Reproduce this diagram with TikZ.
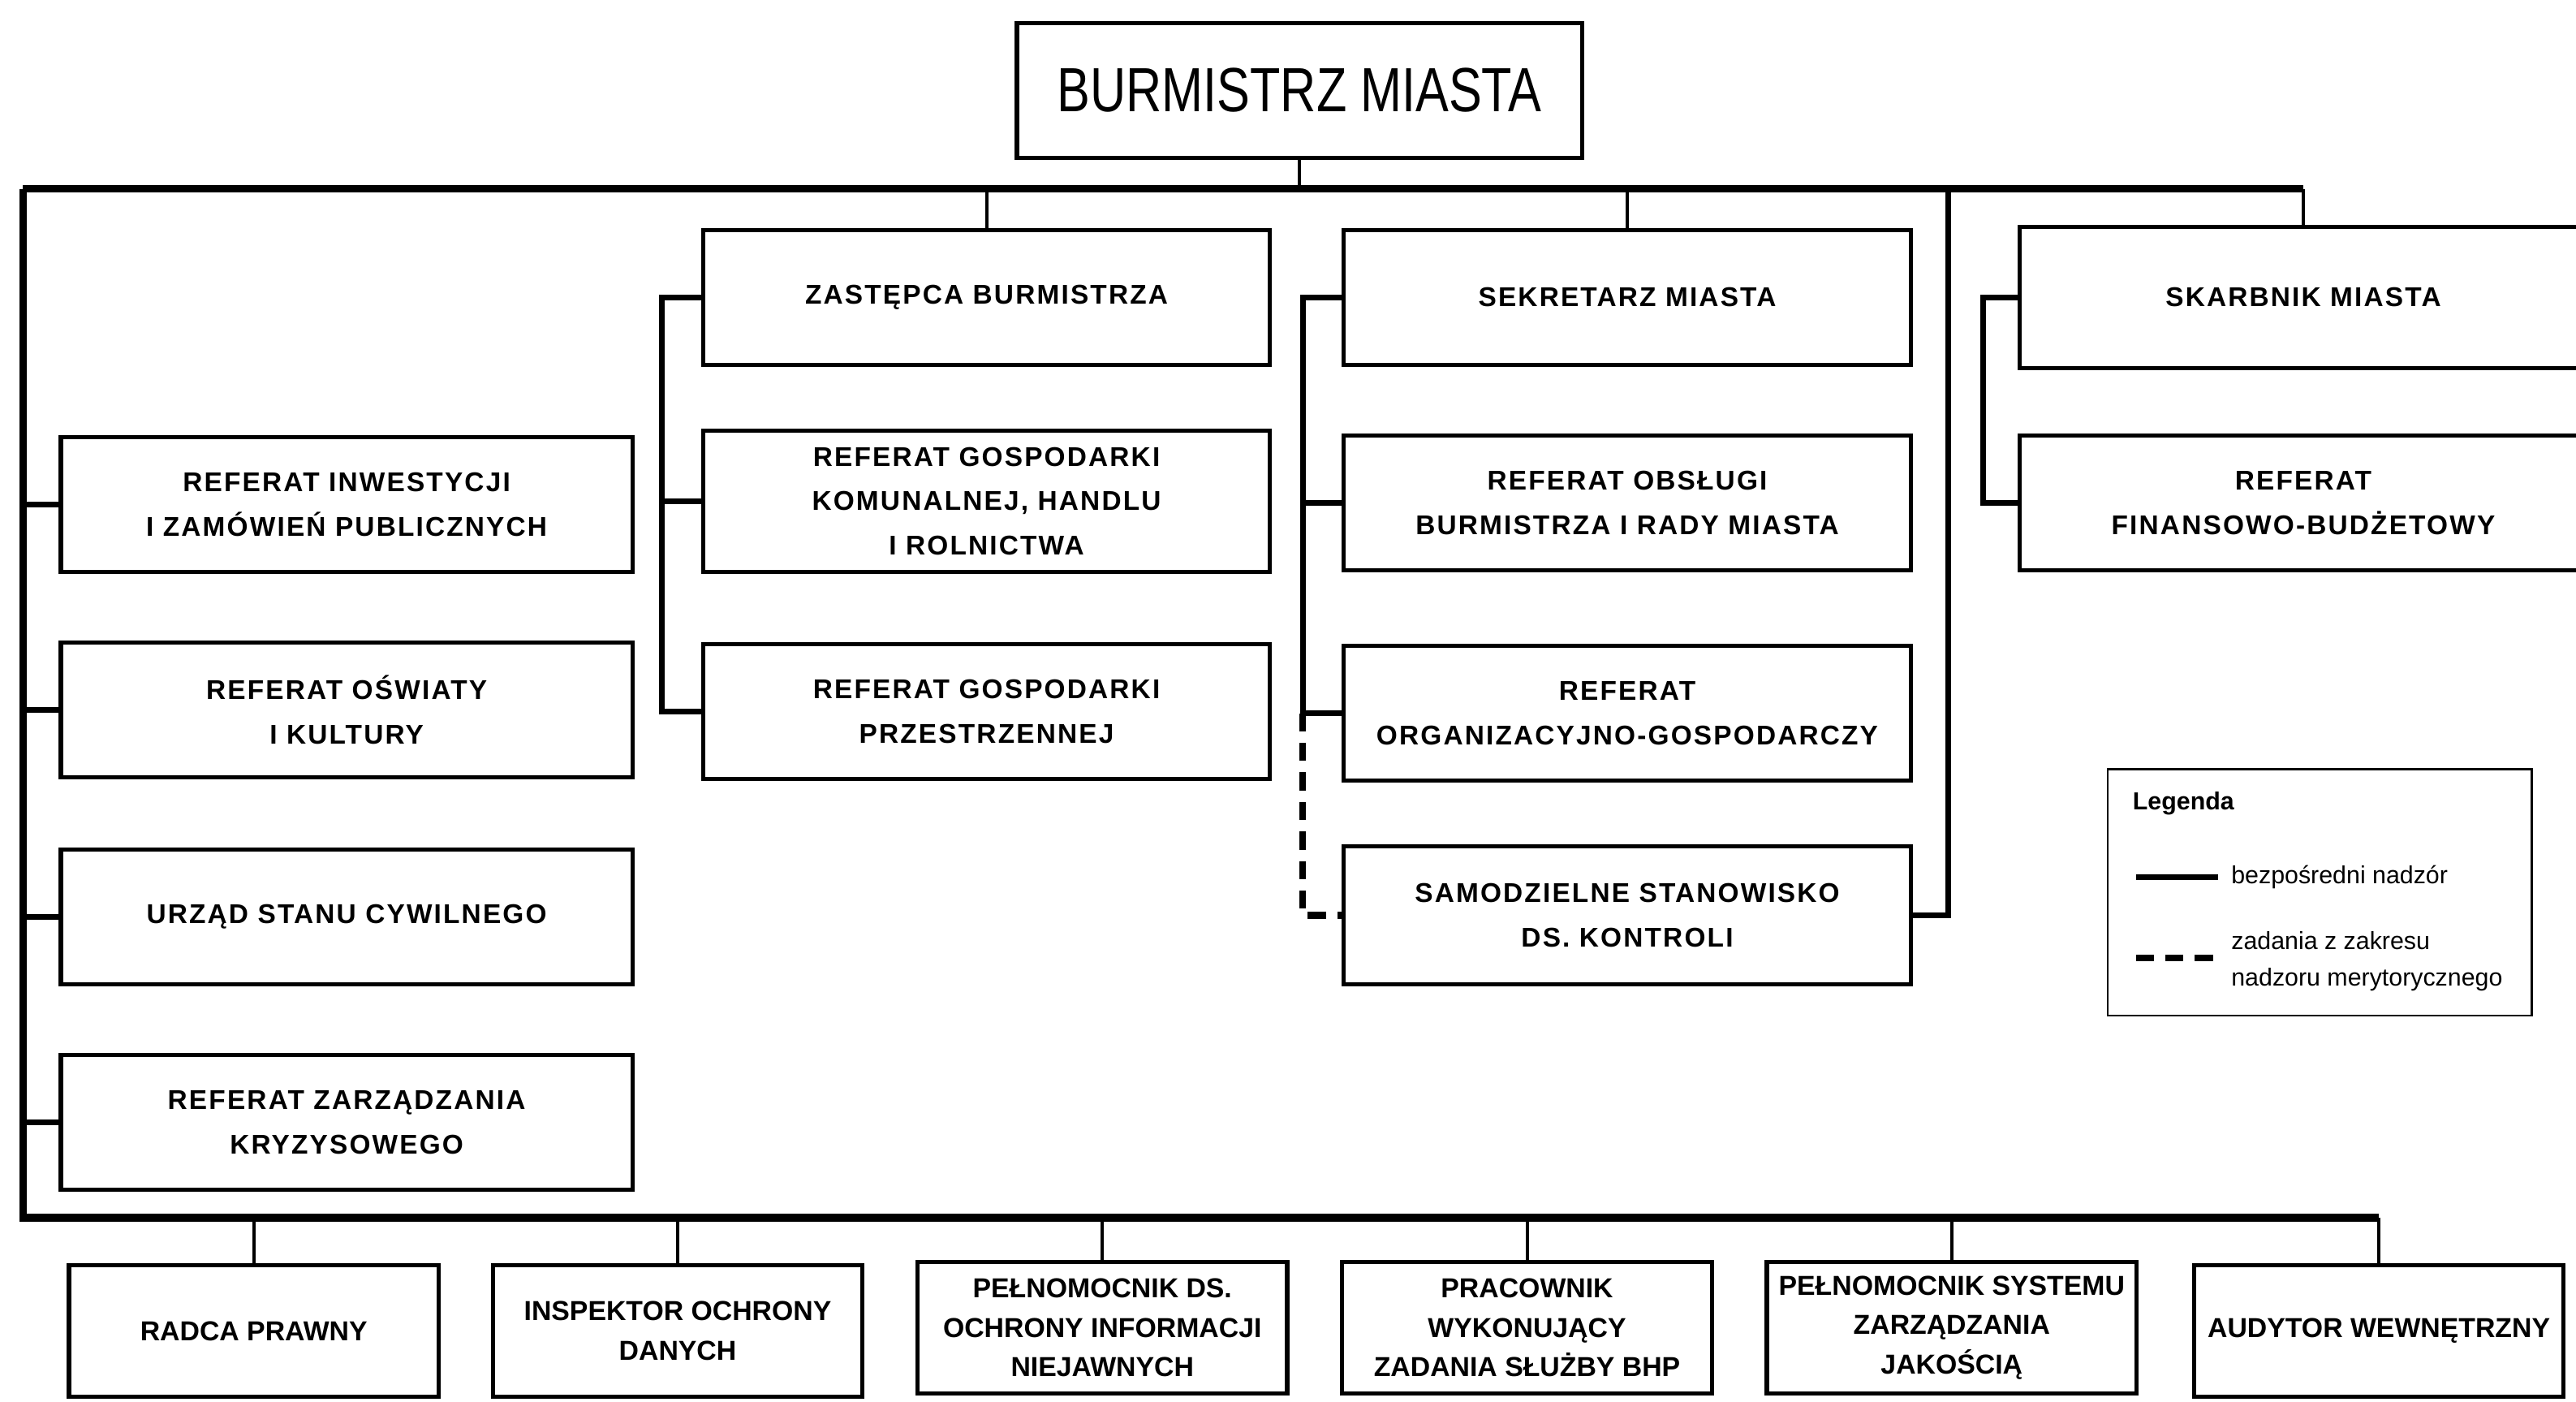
\documentclass[tikz,border=0pt]{standalone}
\usepackage{fontspec}
\setmainfont{Liberation Sans}
\newfontfamily\titlefont{Liberation Sans}[FakeStretch=0.795]
\newfontfamily\deptfont{Liberation Sans}[LetterSpace=6.5]

\tikzset{
  deptbox/.style={draw, line width=2.6pt, fill=white, minimum width=345, minimum height=82,
    align=center, inner sep=0pt, font=\deptfont\bfseries\fontsize{16.5}{27}\selectfont},
  postbox/.style={deptbox, minimum width=225, minimum height=80,
    font=\bfseries\fontsize{16.7}{24}\selectfont},
  busline/.style={line width=4.5pt},
  branchline/.style={line width=3.5pt},
  stemline/.style={line width=2pt},
  meritline/.style={line width=4pt, dash pattern=on 11pt off 7pt},
}

\begin{document}
\begin{tikzpicture}[x=1pt,y=1pt,yscale=-1,xscale=1]
\useasboundingbox (0,0) rectangle (1568,853);

%Shape: Head
\node [deptbox, minimum width=344, font=\titlefont\fontsize{38}{40}\selectfont] (mayor) at (791,55) {BURMISTRZ MIASTA};

%Shape: Left column
\node [deptbox, minimum width=348] (inw) at (211,307) {REFERAT INWESTYCJI\\I ZAMÓWIEŃ PUBLICZNYCH};
\node [deptbox, minimum width=348] (osw) at (211,432) {REFERAT OŚWIATY\\I KULTURY};
\node [deptbox, minimum width=348] (usc) at (211,558) {URZĄD STANU CYWILNEGO};
\node [deptbox, minimum width=348] (kryz) at (211,683) {REFERAT ZARZĄDZANIA\\KRYZYSOWEGO};

%Shape: Deputy column
\node [deptbox] (zast) at (600.5,181) {ZASTĘPCA BURMISTRZA};
\node [deptbox, minimum height=86] (gkom) at (600.5,305) {REFERAT GOSPODARKI\\KOMUNALNEJ, HANDLU\\I ROLNICTWA};
\node [deptbox] (gprz) at (600.5,433) {REFERAT GOSPODARKI\\PRZESTRZENNEJ};

%Shape: Secretary column
\node [deptbox] (sekr) at (990.5,181) {SEKRETARZ MIASTA};
\node [deptbox] (obsl) at (990.5,306) {REFERAT OBSŁUGI\\BURMISTRZA I RADY MIASTA};
\node [deptbox] (orgz) at (990.5,434) {REFERAT\\ORGANIZACYJNO-GOSPODARCZY};
\node [deptbox, minimum height=84] (kontr) at (990.5,557) {SAMODZIELNE STANOWISKO\\DS. KONTROLI};

%Shape: Treasurer column
\node [deptbox, minimum height=86] (skarb) at (1402,181) {SKARBNIK MIASTA};
\node [deptbox] (finb) at (1402,306) {REFERAT\\FINANSOWO-BUDŻETOWY};

%Shape: Bottom row
\node [postbox] (radca) at (154.5,810) {RADCA PRAWNY};
\node [postbox] (iod) at (412.5,810) {INSPEKTOR OCHRONY\\DANYCH};
\node [postbox] (ochr) at (671,808) {PEŁNOMOCNIK DS.\\OCHRONY INFORMACJI\\NIEJAWNYCH};
\node [postbox] (bhp) at (929.5,808) {PRACOWNIK\\WYKONUJĄCY\\ZADANIA SŁUŻBY BHP};
\node [postbox] (jakosc) at (1188,808) {PEŁNOMOCNIK SYSTEMU\\ZARZĄDZANIA\\JAKOŚCIĄ};
\node [postbox] (audyt) at (1448,810) {AUDYTOR WEWNĘTRZNY};

%Straight Lines: buses
\coordinate (tl) at (14,115);
\coordinate (bl) at (14,741);
\coordinate (c2) at (403,0);
\coordinate (c3) at (793,0);
\coordinate (c4) at (1207,0);
\coordinate (c5) at (1186,115);
\draw [busline] (tl) -- (skarb.north |- tl);
\draw [busline] (tl) -- (bl) -- (audyt.north |- bl);
\draw [stemline] (mayor.south) -- (mayor.south |- tl);
\foreach \n in {zast,sekr,skarb}
  \draw [stemline] (\n.north |- tl) -- (\n.north);
\foreach \n in {radca,iod,ochr,bhp,jakosc,audyt}
  \draw [stemline] (\n.north |- bl) -- (\n.north);

%Straight Lines: branches
\foreach \n in {inw,osw,usc,kryz}
  \draw [branchline] (\n.west -| tl) -- (\n.west);
\draw [branchline] (zast.west) -- (zast.west -| c2) -- (gprz.west -| c2) -- (gprz.west);
\draw [branchline] (gkom.west -| c2) -- (gkom.west);
\draw [branchline] (sekr.west) -- (sekr.west -| c3) -- (orgz.west -| c3) -- (orgz.west);
\draw [branchline] (obsl.west -| c3) -- (obsl.west);
\draw [meritline] (orgz.west -| c3) -- (kontr.west -| c3) -- (kontr.west);
\draw [branchline] (c5) -- (c5 |- kontr.east) -- (kontr.east);
\draw [branchline] (skarb.west) -- (skarb.west -| c4) -- (finb.west -| c4) -- (finb.west);

%Shape: Legend
\draw [line width=1.2pt] (1283,468) rectangle (1541,618);
\node [anchor=west, inner sep=0pt, font=\bfseries\fontsize{15}{18}\selectfont] (leg) at (1298,489) {Legenda};
\coordinate (sa) at (1300,534);
\coordinate (sb) at (1350,534);
\coordinate (da) at (1300,583);
\coordinate (db) at (1350,583);
\draw [line width=3.5pt] (sa) -- (sb);
\draw [meritline] (da) -- (db);
\node [anchor=west, inner sep=0pt, font=\fontsize{15}{18}\selectfont] (legsolid) at (1358,534) {bezpośredni nadzór};
\node [anchor=west, inner sep=0pt, align=left, font=\fontsize{15}{22}\selectfont] (legdash) at (1358,585) {zadania z zakresu\\nadzoru merytorycznego};

\end{tikzpicture}
\end{document}
